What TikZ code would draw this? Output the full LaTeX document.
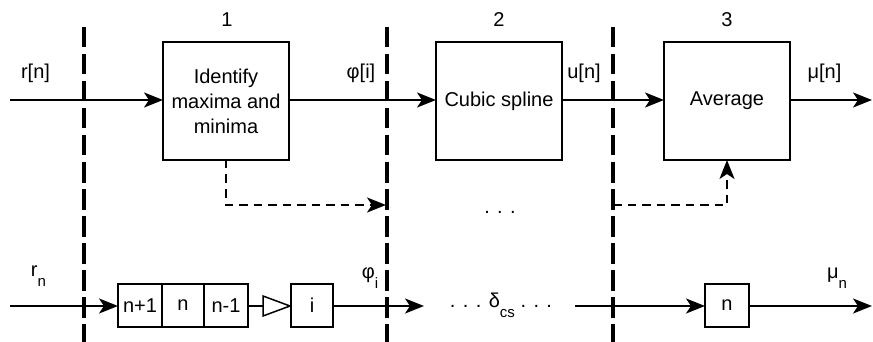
\documentclass[tikz,border=0pt]{standalone}
\usepackage{fontspec}
\setmainfont{Liberation Sans}
\usetikzlibrary{arrows.meta}
\newcommand{\mysub}[1]{\raisebox{-10pt}{\fontsize{15}{15}\selectfont #1}}
\begin{document}
\begin{tikzpicture}[x=1pt,y=-1pt,
  every node/.style={font=\fontsize{20}{25}\selectfont, inner sep=0pt, outer sep=0pt},
  blk/.style={draw, line width=1.5pt, minimum width=126pt, minimum height=118pt, align=center},
  cell/.style={draw, line width=1.5pt, minimum height=43pt},
  lbl/.style={anchor=base},
  tip/.style={-{Stealth[length=19pt,width=15pt,inset=5pt]}},
  sig/.style={line width=2pt, tip},
  plainline/.style={line width=2pt},
  sepline/.style={line width=3.5pt, dash pattern=on 20.5pt off 6.5pt},
  fb/.style={line width=1.8pt, dash pattern=on 8.5pt off 6pt, tip}]
\useasboundingbox (0,0) rectangle (873,342);

% separators
\coordinate (s1t) at (84,27);  \coordinate (s1b) at (84,342);
\coordinate (s2t) at (387,27); \coordinate (s2b) at (387,342);
\coordinate (s3t) at (613,27); \coordinate (s3b) at (613,342);
\draw[sepline] (s1t) -- (s1b);
\draw[sepline] (s2t) -- (s2b);
\draw[sepline] (s3t) -- (s3b);

% blocks
\node[blk] (b1) at (226,101) {Identify\\maxima and\\minima};
\node[blk] (b2) at (499,101) {Cubic spline};
\node[blk] (b3) at (727,101) {Average};

\node[lbl] (n1) at (227,27) {1};
\node[lbl] (n2) at (499,27) {2};
\node[lbl] (n3) at (727,27) {3};

\node[lbl] (lr) at (35.5,79) {r[n]};
\node[lbl] (lphi) at (361,79) {φ[i]};
\node[lbl] (lu) at (584,79) {u[n]};
\node[lbl] (lmu) at (824.5,79) {μ[n]};

% top row connectors
\coordinate (in1) at (10,100);
\coordinate (out1) at (872,100);
\draw[sig] (in1) -- (b1.west |- in1);
\draw[sig] (b1.east |- in1) -- (b2.west |- in1);
\draw[sig] (b2.east |- in1) -- (b3.west |- in1);
\draw[sig] (b3.east |- in1) -- (out1);

% feedback
\coordinate (f1c) at (226,205);
\coordinate (f1e) at (386,205);
\draw[fb] (b1.south) -- (f1c) -- (f1e);
\coordinate (f2s) at (613,205);
\coordinate (f2c) at (727,205);
\draw[fb] (f2s) -- (f2c) -- (b3.south);

\node[lbl] (dots1) at (500,213) {. . .};

% bottom row
\node[cell, minimum width=44pt] (c1) at (140,305.5) {n+1};
\node[cell, minimum width=42pt] (c2) at (183,305.5) {n};
\node[cell, minimum width=44pt] (c3) at (226,305.5) {n-1};
\node[cell, minimum width=42pt] (ci) at (312,305.5) {i};
\node[cell, minimum width=44pt] (cn) at (727,305.5) {n};

\coordinate (t1) at (263,296);
\coordinate (t2) at (290,306);
\coordinate (t3) at (263,316);
\coordinate (tw) at (263,306);
\draw[line width=1.5pt, line join=miter] (t1) -- (t2) -- (t3) -- cycle;

\coordinate (in2) at (10,306);
\coordinate (o2a) at (424,306);
\coordinate (i2b) at (575,306);
\coordinate (out2) at (872,306);
\draw[sig] (in2) -- (c1.west |- in2);
\draw[plainline] (c3.east |- in2) -- (tw);
\draw[sig] (ci.east |- in2) -- (o2a);
\draw[sig] (i2b) -- (cn.west |- in2);
\draw[sig] (cn.east |- in2) -- (out2);

\node[lbl] (lrn) at (38.5,276) {r\mysub{n}};
\node[lbl] (lphii) at (370,278) {φ\mysub{i}};
\node[lbl] (lmun) at (837,278) {μ\mysub{n}};
\node[lbl] (dcs) at (501,307) {. . . δ\mysub{cs} . . .};
\end{tikzpicture}
\end{document}
